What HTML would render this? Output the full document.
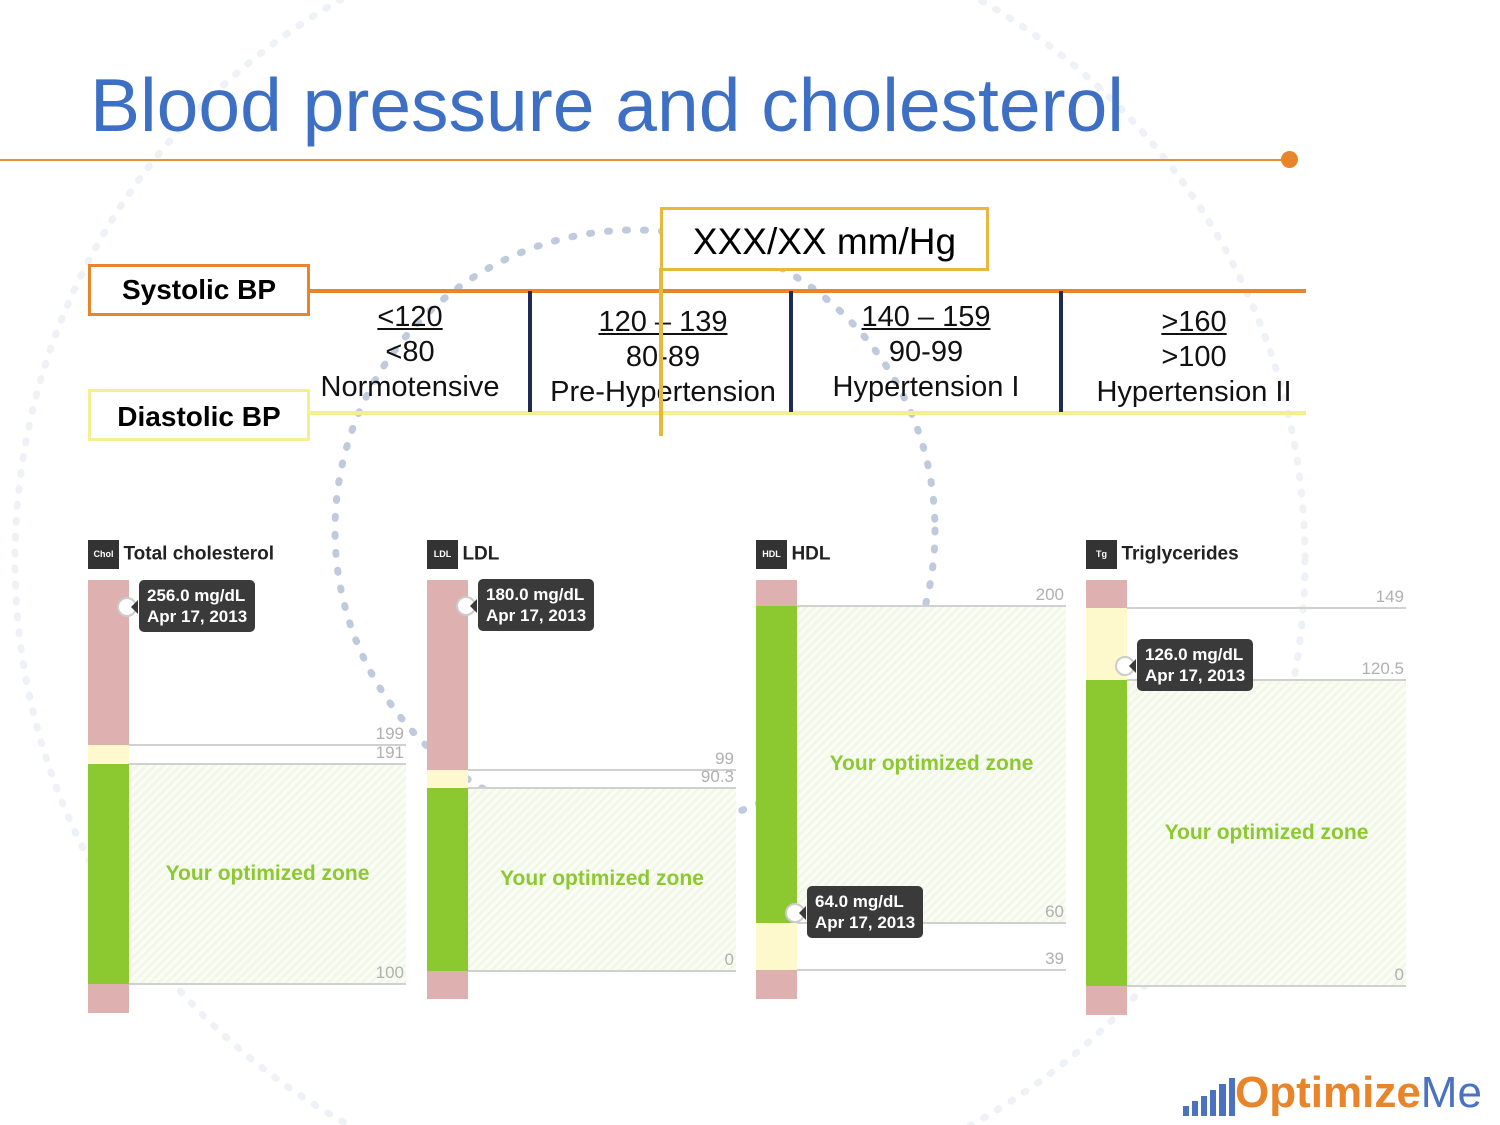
<!DOCTYPE html>
<html><head><meta charset="utf-8"><style>
body{margin:0;width:1500px;height:1125px;position:relative;background:#fff;font-family:"Liberation Sans",sans-serif;overflow:hidden}
.a{position:absolute}
.bp{font-size:29px;color:#111;text-align:center;line-height:35px}
.u{text-decoration:underline}
.tip{position:absolute;background:#3a3a3a;color:#fff;font-size:17px;font-weight:bold;line-height:21px;padding:5px 8px;border-radius:5px;white-space:nowrap}
</style></head><body>
<svg class="a" style="left:0;top:0" width="1500" height="1125">
<circle cx="635" cy="530" r="300" fill="none" stroke="#a9b8d2" stroke-width="7" stroke-dasharray="2 16" stroke-linecap="round" opacity="0.75"/>
<circle cx="660" cy="560" r="645" fill="none" stroke="#eef1f6" stroke-width="7" stroke-dasharray="2 14" stroke-linecap="round"/>
</svg>
<div class="a" style="left:90px;top:62px;font-size:75px;color:#3d6fc4;white-space:nowrap">Blood pressure and cholesterol</div>
<div class="a" style="left:0;top:159px;width:1290px;height:2px;background:#e8913a"></div>
<div class="a" style="left:1281px;top:151px;width:17px;height:17px;border-radius:50%;background:#e8842a"></div>

<div class="a" style="left:310px;top:289px;width:996px;height:4px;background:#e8842a"></div>
<div class="a" style="left:310px;top:411px;width:996px;height:4px;background:#f6ef8f"></div>
<div class="a" style="left:88px;top:264px;width:216px;height:46px;border:3px solid #e8842a;background:#fff;font-size:28px;font-weight:bold;text-align:center;line-height:46px">Systolic BP</div>
<div class="a" style="left:88px;top:389px;width:216px;height:46px;border:3px solid #f6ef8f;background:#fff;font-size:28px;font-weight:bold;text-align:center;line-height:50px">Diastolic BP</div>
<div class="a" style="left:528px;top:291px;width:4px;height:121px;background:#1f2a55"></div>
<div class="a" style="left:789px;top:291px;width:4px;height:121px;background:#1f2a55"></div>
<div class="a" style="left:1059px;top:291px;width:4px;height:121px;background:#1f2a55"></div>
<div class="a bp" style="left:310px;top:300px;width:200px"><span class="u">&lt;120</span><br>&lt;80<br>Normotensive</div>
<div class="a bp" style="left:532px;top:305px;width:262px"><span class="u">120 – 139</span><br>80-89<br>Pre-Hypertension</div>
<div class="a bp" style="left:793px;top:300px;width:266px"><span class="u">140 – 159</span><br>90-99<br>Hypertension I</div>
<div class="a bp" style="left:1063px;top:305px;width:262px"><span class="u">&gt;160</span><br>&gt;100<br>Hypertension II</div>
<div class="a" style="left:659px;top:268px;width:4px;height:168px;background:#e6b83b"></div>
<div class="a" style="left:660px;top:207px;width:323px;height:58px;border:3px solid #e6b83b;background:#fff;font-size:37px;text-align:center;line-height:64px">XXX/XX mm/Hg</div>

<div id="charts"></div>
<div class="a" style="left:1183px;top:1068px;white-space:nowrap;height:50px;overflow:hidden">
<svg width="52" height="44" style="vertical-align:bottom"><g fill="#4a72c0"><rect x="0" y="32" width="6" height="10"/><rect x="9" y="27" width="6" height="15"/><rect x="18" y="22" width="6" height="20"/><rect x="27" y="16" width="6" height="26"/><rect x="36" y="10" width="7" height="32"/><rect x="46" y="4" width="6" height="38"/></g></svg><span style="font-size:44px;font-weight:bold;color:#e8842a">Optimize</span><span style="font-size:44px;color:#4a72c0">Me</span></div>

<script>
// Chart data
const panelNames=["Total cholesterol","LDL","HDL","Triglycerides"];
const panelCodes=["Chol","LDL","HDL","Tg"];
const panelValues=[256.0,180.0,64.0,126.0];
const panelThresholds=[[199,191,100],[99,90.3,0],[200,60,39],[149,120.5,0]];
const thresholdLabels=[["199","191","100"],["99","90.3","0"],["200","60","39"],["149","120.5","0"]];
const readingDate="Apr 17, 2013";
// layout (not data)
const layout=[
 {x:88,plotR:406,top:580,bot:1013,pyHi:745,pyLo:984,zones:["#dfb0b0","#fdf9cc","#8cc830","#dfb0b0"],opt:[1,2]},
 {x:427,plotR:736,top:580,bot:999,pyHi:770,pyLo:971,zones:["#dfb0b0","#fdf9cc","#8cc830","#dfb0b0"],opt:[1,2]},
 {x:756,plotR:1066,top:580,bot:999,pyHi:606,pyLo:970,zones:["#dfb0b0","#8cc830","#fdf9cc","#dfb0b0"],opt:[0,1]},
 {x:1086,plotR:1406,top:580,bot:1015,pyHi:608,pyLo:986,zones:["#dfb0b0","#fdf9cc","#8cc830","#dfb0b0"],opt:[1,2]}
];
const root=document.getElementById('charts');
function mk(parent,css,name){const d=document.createElement('div');d.className='a';d.style.cssText=css;


parent.appendChild(d);return d;}
panelNames.forEach((nm,i)=>{
 const L=layout[i],th=panelThresholds[i];
 const y=v=>L.pyLo+(v-th[2])*(L.pyHi-L.pyLo)/(th[0]-th[2]);
 const bw=41,x0=L.x+bw;
 const head=mk(root,`left:${L.x}px;top:540px;white-space:nowrap`,'panel-header');
 head.innerHTML=`<span style="display:inline-block;width:31px;height:29px;background:#333;color:#fff;font-size:9px;font-weight:bold;text-align:center;line-height:29px;vertical-align:middle">${panelCodes[i]}</span> <span style="font-size:19px;font-weight:bold;color:#222;vertical-align:middle">${nm}</span>`;
 const edges=[L.top,y(th[0]),y(th[1]),y(th[2]),L.bot];
 for(let z=0;z<4;z++){
  mk(root,`left:${L.x}px;top:${edges[z]}px;width:${bw}px;height:${edges[z+1]-edges[z]}px;background:${L.zones[z]}`,'zone-bar');
 }
 const o1=edges[L.opt[0]+1],o2=edges[L.opt[1]+1];
 mk(root,`left:${x0}px;top:${o1}px;width:${L.plotR-x0}px;height:${o2-o1}px;background:repeating-linear-gradient(135deg,#f2f8e8 0 3px,#fafdf5 3px 6px)`,'optimized-zone');
 const ol=mk(root,`left:${x0}px;top:${(o1+o2)/2-12}px;width:${L.plotR-x0}px;text-align:center;font-size:21px;font-weight:bold;color:#8cc830`,'optimized-zone-label');
 ol.textContent='Your optimized zone';
 th.forEach((v,k)=>{
  const py=y(v);
  mk(root,`left:${x0}px;top:${py-1}px;width:${L.plotR-x0}px;height:2px;background:#d0d0d0`,'threshold-line');
  const t=mk(root,`left:${L.plotR-80}px;top:${py-21}px;width:78px;text-align:right;font-size:17px;color:#b0b0b0;overflow:hidden`,'threshold-label');
  t.textContent=thresholdLabels[i][k];
 });
 const py=y(panelValues[i]);
 mk(root,`left:${x0-12}px;top:${py-10}px;width:16px;height:16px;border-radius:50%;border:2px solid #ccc;background:#fff`,'value-marker');
 mk(root,`left:${x0+2}px;top:${py-7}px;width:0;height:0;border:7px solid transparent;border-right-color:#3a3a3a;border-left:0`,'tooltip-arrow');
 const tip=mk(root,`left:${x0+10}px;top:${py-27}px`,'value-tooltip');
 tip.className='tip';
 tip.innerHTML=panelValues[i].toFixed(1)+' mg/dL<br>'+readingDate;
});
</script>
</body></html>
